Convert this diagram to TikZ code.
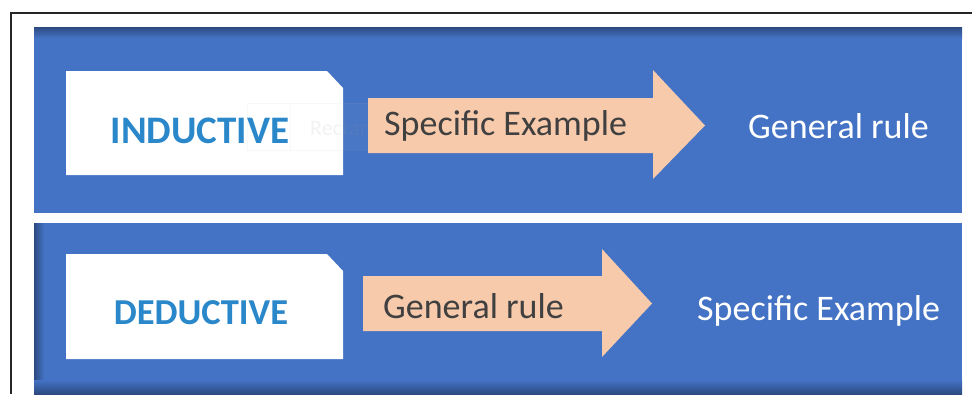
\documentclass[tikz,border=0pt]{standalone}
\usepackage{fontspec}
\setmainfont{Carlito}
\definecolor{panelblue}{HTML}{4472C4}
\definecolor{shadeblue}{HTML}{2C4A80}
\definecolor{peach}{HTML}{F7CAAC}
\definecolor{darktext}{HTML}{404040}
\definecolor{titleblue}{HTML}{2A87C9}
\tikzset{
  panel/.style={fill=panelblue, draw=none},
  tagbox/.style={fill=white, draw=none},
  arrowshape/.style={fill=peach, draw=none},
  title/.style={font=\bfseries, text=titleblue, inner sep=0pt},
  arrowtext/.style={font=\fontsize{36}{40}\selectfont, text=darktext, inner sep=0pt, anchor=base west},
  resulttext/.style={font=\fontsize{36}{40}\selectfont, text=white, inner sep=0pt, anchor=base west},
}
\begin{document}
\begin{tikzpicture}[x=1pt, y=-1pt]
\useasboundingbox (0,0) rectangle (972,394);
\fill[white] (0,0) rectangle (972,394);

% outer frame (top and left edges)
\draw[line width=1.4pt, black!85] (972,13) -- (11,13) -- (11,394);

% upper panel with shadow along its top edge
\fill[panel] (34,27) rectangle (962,213);
\shade[top color=shadeblue, bottom color=panelblue] (34,27) rectangle (962,38);

% lower panel with shadow along its left and bottom edges
\fill[panel] (34,223) rectangle (962,394);
\shade[left color=shadeblue, right color=panelblue] (34,223) rectangle (44,394);
\shade[top color=panelblue, bottom color=shadeblue] (34,380) rectangle (962,394);

% snipped-corner label boxes
\fill[tagbox] (66,71) -- (327,71) -- (343,88) -- (343,175) -- (66,175) -- cycle;
\fill[tagbox] (66,254) -- (327,254) -- (343,271) -- (343,359) -- (66,359) -- cycle;

% faint placeholder box
\fill[white, opacity=0.03] (247,103) rectangle (592,150);
\draw[black!30, opacity=0.08, line width=0.6pt] (247,103) rectangle (592,150) (290,103) -- (290,150);
\node[font=\fontsize{22}{26}\selectfont, text=black!40, opacity=0.12, inner sep=0pt, anchor=base west] (ph) at (310,135) {Rectang};

% block arrows
\fill[arrowshape] (368,98) -- (653,98) -- (653,70) -- (705,125.5) -- (653,179) -- (653,153) -- (368,153) -- cycle;
\fill[arrowshape] (363,276) -- (602,276) -- (602,249) -- (652,303.5) -- (602,357) -- (602,331) -- (363,331) -- cycle;

% labels
\node[title, font=\bfseries\fontsize{39}{42}\selectfont, anchor=base] (ind) at (200,143) {INDUCTIVE};
\node[title, font=\bfseries\fontsize{36.5}{40}\selectfont, anchor=base] (ded) at (201,324) {DEDUCTIVE};

\node[arrowtext] (a1) at (384,135) {Specific Example};
\node[arrowtext] (a2) at (383,318) {General rule};

\node[resulttext] (r1) at (748,138) {General rule};
\node[resulttext] (r2) at (697,320) {Specific Example};
\end{tikzpicture}
\end{document}
